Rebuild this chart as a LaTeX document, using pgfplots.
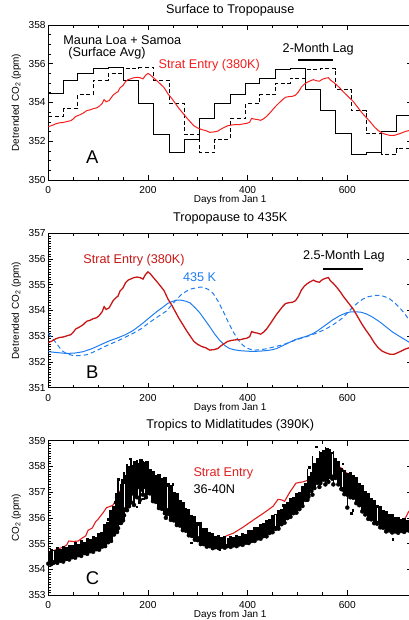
\documentclass[border=0pt]{standalone}
\usepackage{pgfplots}
\usepackage{pgfplotstable}
\pgfplotsset{compat=1.18}
\usepackage{fontspec}
\setmainfont{Liberation Sans}
\definecolor{redA}{RGB}{245,30,30}
\definecolor{redB}{RGB}{200,22,22}
\definecolor{redC}{RGB}{225,30,30}
\definecolor{blueB}{RGB}{30,125,240}
\tikzset{ann/.style={font=\fontsize{12.7}{14}\selectfont, inner sep=0pt},
  big/.style={font=\fontsize{18.5}{20}\selectfont, inner sep=0pt}}

\pgfplotstableread{
d v
0 352.75
8 352.82
15 352.90
22 352.95
30 352.97
38 353.02
45 353.06
50 353.15
55 353.28
62 353.35
70 353.45
77 353.58
84 353.62
90 353.68
97 353.72
102 353.80
108 353.95
112 354.15
116 354.04
122 354.10
130 354.38
136 354.50
140 354.56
144 354.76
150 354.88
155 355.08
160 355.18
165 355.22
172 355.28
178 355.30
184 355.28
190 355.22
195 355.40
200 355.50
205 355.42
210 355.30
218 355.12
225 354.95
232 354.78
240 354.45
248 354.20
255 353.95
262 353.70
270 353.45
278 353.20
285 353.00
292 352.80
300 352.68
308 352.60
316 352.55
324 352.46
332 352.48
340 352.52
346 352.62
352 352.70
360 352.80
368 352.84
376 352.86
384 352.86
392 352.90
398 352.92
404 352.98
408 353.18
414 353.14
420 353.12
426 353.08
432 353.16
438 353.28
446 353.50
452 353.68
458 353.85
464 354.00
470 354.15
476 354.27
482 354.30
490 354.32
496 354.38
502 354.55
508 354.80
514 354.95
520 355.05
526 355.12
532 355.18
538 355.12
544 355.10
550 355.20
556 355.25
562 355.28
566 355.16
572 355.05
578 354.92
585 354.75
592 354.55
600 354.35
606 354.20
612 354.05
618 353.85
624 353.65
630 353.45
638 353.22
646 353.00
654 352.75
662 352.55
670 352.42
678 352.35
686 352.30
694 352.30
700 352.35
708 352.42
716 352.50
724 352.55
730 352.58
}\strat

\pgfplotstableread{
d lo hi
0 354.22 354.70
6 354.20 354.78
12 354.28 354.74
18 354.25 354.85
24 354.33 354.80
30 354.30 354.90
36 354.40 354.86
42 354.38 354.96
48 354.47 354.93
54 354.45 355.05
60 354.55 355.00
66 354.52 355.12
72 354.63 355.08
78 354.60 355.20
84 354.70 355.16
90 354.68 355.30
96 354.78 355.25
102 354.76 355.42
108 354.88 355.45
114 354.90 355.75
120 355.05 355.85
126 355.10 356.30
132 355.35 356.45
138 355.45 356.95
144 355.80 357.00
150 355.90 357.50
156 356.35 357.65
162 356.45 358.00
168 356.95 358.05
174 356.90 358.20
180 357.20 358.15
186 357.10 358.28
192 357.20 358.18
198 356.95 358.22
204 356.95 357.90
210 356.65 357.82
216 356.62 357.65
222 356.38 357.72
228 356.35 357.55
234 356.18 357.58
240 356.15 357.35
246 355.92 357.28
252 355.90 357.00
258 355.72 356.95
264 355.70 356.68
270 355.52 356.62
276 355.50 356.38
282 355.32 356.33
288 355.30 356.10
294 355.15 356.06
300 355.13 355.85
306 354.98 355.82
312 354.98 355.62
318 354.88 355.60
324 354.90 355.45
330 354.82 355.42
336 354.86 355.30
342 354.82 355.34
348 354.88 355.25
354 354.84 355.28
360 354.90 355.22
366 354.87 355.29
372 354.93 355.25
378 354.90 355.34
384 354.97 355.31
390 354.95 355.40
396 355.03 355.39
402 355.02 355.51
408 355.10 355.52
414 355.10 355.64
420 355.20 355.65
426 355.19 355.78
432 355.29 355.80
438 355.28 355.93
444 355.41 355.96
450 355.44 356.12
456 355.57 356.15
462 355.58 356.31
468 355.75 356.36
474 355.81 356.55
480 355.99 356.60
486 356.04 356.77
492 356.18 356.81
498 356.20 356.97
504 356.34 357.01
510 356.46 357.25
516 356.70 357.37
522 356.82 357.62
528 357.05 357.80
534 357.16 358.15
540 357.36 358.32
546 357.35 358.55
552 357.48 358.62
558 357.48 358.70
564 357.59 358.66
570 357.52 358.55
576 357.55 358.33
582 357.30 358.20
588 357.12 357.92
594 356.92 357.85
600 356.90 357.75
606 356.80 357.77
612 356.78 357.66
618 356.57 357.57
624 356.49 357.36
630 356.25 357.26
636 356.13 357.06
642 355.96 356.97
648 355.94 356.77
654 355.79 356.70
660 355.77 356.51
666 355.63 356.47
672 355.61 356.31
678 355.47 356.27
684 355.51 356.15
690 355.43 356.14
696 355.47 356.03
702 355.42 356.05
708 355.49 355.96
714 355.45 355.98
720 355.52 355.90
726 355.48 355.93
}\cloud

\pgfplotstableread{
d lo hi
140 355.60 357.50
146 355.80 357.30
152 356.10 357.80
158 356.30 358.10
166 356.60 358.30
172 356.50 358.20
178 356.80 358.25
184 356.70 358.10
190 356.90 358.20
196 356.80 358.10
236 356.00 357.60
520 356.70 357.90
530 356.90 358.40
544 357.20 358.60
556 357.30 358.75
562 357.40 358.72
572 357.30 358.60
600 356.40 357.70
}\streaks

\pgfplotstableread{
d lo hi
10 354.25 354.72
152 356.30 357.30
240 356.30 357.20
302 355.20 355.70
357 354.90 355.20
456 355.60 356.10
571 357.60 358.50
591 357.10 357.80
661 355.80 356.40
}\gaps

\pgfplotsset{
  myax/.style={
    scale only axis, width=363.8bp,
    xmin=0, xmax=730,
    xtick={0,200,400,600}, minor x tick num=3,
    tick align=inside, major tick length=5bp, minor tick length=2.8bp,
    axis line style={line width=0.9bp},
    every tick/.style={black, line width=0.7bp},
    /pgf/number format/assume math mode=true,
    /pgf/number format/1000 sep={},
    ticklabel style={font=\fontsize{10.2}{12}\selectfont},
    xticklabel style={anchor=center, yshift=-10bp},
    yticklabel style={anchor=east, inner sep=2.5bp},
    label style={font=\fontsize{10.3}{12}\selectfont},
    every axis x label/.style={at={(axis description cs:0.5,0)}, anchor=center, yshift=-20bp},
    every axis y label/.style={at={(axis description cs:-0.088,0.5)}, anchor=center, rotate=90},
    title style={at={(0.5,1)}, anchor=base, yshift=6bp, font=\fontsize{12.7}{14}\selectfont},
    xlabel={Days from Jan 1},
  }
}

\begin{document}
\begin{tikzpicture}
\useasboundingbox (0,0) rectangle (409bp,620bp);

% Panel A
\begin{axis}[myax, at={(48.3bp,440bp)}, anchor=south west, height=155bp,
  ymin=350, ymax=358, ytick={350,352,354,356,358}, minor y tick num=3,
  title={Surface to Tropopause}, ylabel={Detrended CO\textsubscript{2} (ppm)}]
\addplot[black, line width=1bp, const plot] coordinates {
(0,354.45) (31,355.16) (59,355.48) (90,355.78) (120,355.82) (151,355.16) (181,353.96) (212,352.35) (243,351.40) (273,352.10) (304,353.16) (334,353.95) (365,354.41) (396,354.98) (424,355.25) (455,355.69) (485,355.75) (516,354.66) (546,353.58) (577,352.38) (608,351.33) (638,351.40) (669,352.50) (699,353.34) (730,353.34)};
\addplot[black, line width=1bp, const plot, dash pattern=on 4bp off 2.6bp] coordinates {
(0,353.30) (31,353.70) (59,354.41) (90,355.16) (120,355.48) (151,355.78) (181,355.80) (212,355.16) (243,353.96) (273,352.35) (304,351.40) (334,352.10) (365,353.16) (396,353.95) (424,354.41) (455,354.98) (485,355.25) (516,355.69) (546,355.75) (577,354.66) (608,353.58) (638,352.38) (669,351.33) (699,351.60) (730,351.60)};
\addplot[redA, line width=1bp] table[x=d, y=v] {\strat};
\addplot[black, line width=1.4bp] coordinates {(501,356.2) (571,356.2)};
\node[ann, anchor=west] at (axis cs:30,357.24) {Mauna Loa + Samoa};
\node[ann, anchor=west] at (axis cs:40,356.52) {(Surface Avg)};
\node[ann, anchor=west, text=redA] at (axis cs:221,355.92) {Strat Entry (380K)};
\node[ann, anchor=west] at (axis cs:470,356.75) {2-Month Lag};
\node[big] at (axis cs:88,351.2) {A};
\end{axis}

% Panel B
\begin{axis}[myax, at={(48.3bp,232.3bp)}, anchor=south west, height=154.4bp,
  ymin=351, ymax=357, ytick={351,...,357}, minor y tick num=9,
  title={Tropopause to 435K}, ylabel={Detrended CO\textsubscript{2} (ppm)}]
\addplot[blueB, line width=1bp] coordinates {
(0,352.40) (20,352.36) (37,352.33) (55,352.35) (70,352.40) (88,352.52) (104,352.66) (120,352.80) (137,352.92) (155,353.06) (170,353.22) (188,353.48) (204,353.74) (218,353.96) (230,354.13) (240,354.28) (250,354.36) (258,354.40) (267,354.40) (276,354.36) (284,354.30) (294,354.12) (304,353.91) (314,353.64) (324,353.37) (334,353.08) (344,352.84) (354,352.64) (364,352.52) (374,352.47) (384,352.44) (398,352.42) (411,352.41) (424,352.42) (437,352.44) (448,352.47) (458,352.52) (471,352.64) (484,352.76) (494,352.86) (504,352.92) (518,353.00) (531,353.10) (541,353.22) (551,353.36) (561,353.50) (571,353.64) (585,353.80) (598,353.91) (608,353.95) (618,353.95) (628,353.93) (638,353.87) (651,353.74) (665,353.56) (678,353.36) (691,353.16) (706,352.98) (723,352.78) (730,352.72)};
\addplot[blueB, line width=1bp, dash pattern=on 4.5bp off 3bp] coordinates {
(0,353.12) (8,352.92) (17,352.71) (24,352.52) (30,352.40) (40,352.30) (50,352.25) (64,352.25) (77,352.28) (90,352.38) (104,352.51) (120,352.66) (137,352.80) (152,352.94) (170,353.11) (187,353.30) (204,353.55) (220,353.76) (237,353.98) (247,354.20) (257,354.42) (267,354.62) (277,354.75) (287,354.84) (297,354.88) (305,354.91) (311,354.90) (321,354.82) (331,354.66) (341,354.35) (351,353.97) (361,353.55) (371,353.17) (381,352.86) (391,352.64) (401,352.52) (411,352.46) (424,352.47) (437,352.51) (454,352.59) (471,352.67) (488,352.79) (504,352.90) (521,353.00) (538,353.12) (555,353.26) (571,353.44) (581,353.57) (591,353.72) (601,353.92) (611,354.13) (621,354.30) (631,354.44) (641,354.53) (651,354.57) (658,354.59) (665,354.59) (675,354.54) (685,354.45) (695,354.30) (705,354.11) (715,353.88) (723,353.66) (730,353.45)};
\addplot[redB, line width=1.3bp] table[x=d, y=v] {\strat};
\addplot[black, line width=1.4bp] coordinates {(551,355.61) (632,355.61)};
\node[ann, anchor=west, text=redB] at (axis cs:70,355.97) {Strat Entry (380K)};
\node[ann, anchor=west, text=blueB] at (axis cs:270,355.28) {435 K};
\node[ann, anchor=west] at (axis cs:511,356.1) {2.5-Month Lag};
\node[big] at (axis cs:88,351.62) {B};
\end{axis}

% Panel C
\begin{axis}[myax, at={(48.3bp,25bp)}, anchor=south west, height=154.3bp,
  ymin=353, ymax=359, ytick={353,...,359}, minor y tick num=9,
  title={Tropics to Midlatitudes (390K)}, ylabel={CO\textsubscript{2} (ppm)}]
\addplot[redC, line width=1.1bp] coordinates {
(0,354.67) (10,354.72) (20,354.80) (30,354.86) (37,354.95) (41,355.10) (50,355.08) (60,355.10) (67,355.20) (75,355.30) (80,355.52) (88,355.60) (95,355.85) (100,355.95) (110,356.20) (117,356.40) (125,356.45) (130,356.50) (137,356.75) (144,357.05) (150,357.25) (157,357.42) (170,357.62) (184,357.76) (197,357.64) (210,357.20) (230,356.71) (250,356.20) (270,355.71) (290,355.24) (311,354.97) (331,354.92) (344,355.04) (357,355.30) (371,355.40) (391,355.64) (411,355.91) (431,356.17) (451,356.45) (461,356.72) (468,356.70) (474,356.64) (484,356.98) (497,357.35) (511,357.40) (524,357.48) (538,357.60) (551,357.74) (565,357.95) (575,358.10) (585,357.98) (605,357.64) (625,357.04) (645,356.44) (665,355.91) (685,355.64) (705,355.70) (718,356.05) (723,356.24) (730,356.38)};
\addplot[only marks, mark=none, error bars/.cd, y dir=plus, y explicit, error mark=none,
  error bar style={draw=black, line width=3.3bp}]
  table[x=d, y=lo, y error expr=\thisrow{hi}-\thisrow{lo}] {\cloud};
\addplot[only marks, mark=none, error bars/.cd, y dir=plus, y explicit, error mark=none,
  error bar style={draw=black, line width=1.2bp}]
  table[x=d, y=lo, y error expr=\thisrow{hi}-\thisrow{lo}] {\streaks};
\addplot[only marks, mark=none, error bars/.cd, y dir=plus, y explicit, error mark=none,
  error bar style={draw=white, line width=1bp}]
  table[x=d, y=lo, y error expr=\thisrow{hi}-\thisrow{lo}] {\gaps};
\addplot[only marks, mark=square*, mark size=0.8bp, black] coordinates {
(140,357.5) (164,358.3) (177,356.44) (190,356.75) (198,358.15) (182,356.6) (287,355.04) (305,355.2) (344,354.77) (524,357.97) (531,357.9) (538,358.77) (608,356.17) (611,356.3) (691,355.17) (591,358.1) (120,355.95) (133,356.6) (250,357.3) (470,356.5)};
\node[ann, anchor=west, text=redC] at (axis cs:291,357.71) {Strat Entry};
\node[ann, anchor=west] at (axis cs:291,357.1) {36-40N};
\node[big] at (axis cs:89,353.64) {C};
\end{axis}
\end{tikzpicture}
\end{document}
